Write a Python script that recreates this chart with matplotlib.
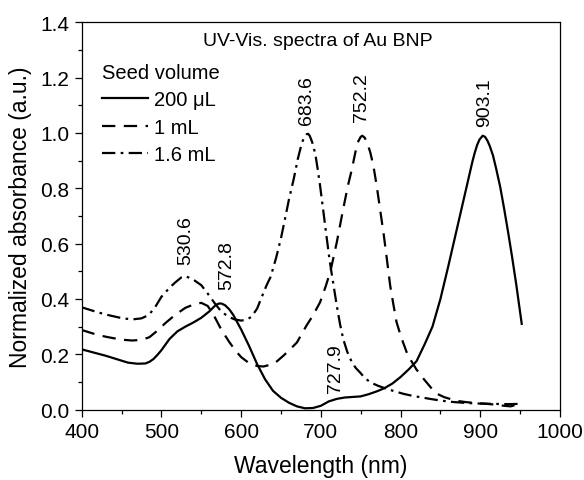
"""UV-Vis spectra of Au BNP for three seed volumes"""

import matplotlib
matplotlib.use("Agg")
import matplotlib.pyplot as plt
from matplotlib.ticker import MultipleLocator

plt.rcParams["font.family"] = ["Liberation Sans", "DejaVu Sans"]

# 200 uL seed
wl_200 = [400, 430, 458, 470, 480, 485, 490, 495, 500, 510, 520, 530, 540, 550, 560,
          567, 570, 573, 576, 580, 585, 590, 600, 610, 620, 630, 640, 650, 660, 670,
          680, 690, 700, 710, 720, 730, 740, 750, 760, 770, 780, 790, 800, 810, 820,
          830, 840, 850, 860, 870, 880, 886, 890, 893, 896, 899, 903, 906, 909, 912,
          916, 920, 925, 930, 935, 940, 945, 952]
abs_200 = [0.218, 0.195, 0.170, 0.166, 0.167, 0.173, 0.183, 0.198, 0.215, 0.255, 0.283,
           0.300, 0.315, 0.332, 0.355, 0.375, 0.381, 0.384, 0.383, 0.377, 0.363, 0.343,
           0.290, 0.230, 0.165, 0.110, 0.068, 0.043, 0.025, 0.012, 0.005, 0.006, 0.014,
           0.030, 0.039, 0.044, 0.046, 0.048, 0.056, 0.066, 0.078, 0.095, 0.118, 0.145,
           0.175, 0.235, 0.300, 0.400, 0.520, 0.645, 0.770, 0.845, 0.895, 0.928, 0.956,
           0.976, 0.990, 0.986, 0.972, 0.952, 0.918, 0.870, 0.805, 0.725, 0.640, 0.550,
           0.455, 0.310]

# 1 mL seed
wl_1ml = [400, 420, 433, 450, 463, 475, 485, 496, 505, 517, 530, 542, 550, 558, 565,
          575, 585, 593, 600, 610, 620, 628, 636, 643, 653, 660, 670, 682, 690, 699,
          706, 712, 720, 728, 734, 739, 744, 747, 750, 752, 755, 758, 762, 766, 770,
          775, 779, 783, 787, 791, 795, 801, 808, 812, 820, 829, 838, 846, 855, 862,
          870, 883, 895, 908, 920, 930, 938, 943]
abs_1ml = [0.288, 0.270, 0.262, 0.253, 0.250, 0.252, 0.262, 0.288, 0.313, 0.342, 0.368,
           0.382, 0.386, 0.375, 0.345, 0.290, 0.245, 0.213, 0.190, 0.168, 0.158, 0.156,
           0.162, 0.170, 0.195, 0.214, 0.243, 0.304, 0.340, 0.388, 0.445, 0.500, 0.605,
           0.725, 0.810, 0.870, 0.940, 0.970, 0.986, 0.990, 0.983, 0.965, 0.930, 0.880,
           0.810, 0.710, 0.630, 0.540, 0.448, 0.380, 0.316, 0.260, 0.205, 0.183, 0.145,
           0.111, 0.080, 0.057, 0.045, 0.039, 0.032, 0.027, 0.024, 0.021, 0.018, 0.014,
           0.012, 0.016]

# 1.6 mL seed
wl_16ml = [400, 420, 433, 450, 463, 475, 484, 492, 500, 510, 517, 525, 530, 540, 550,
           558, 567, 575, 584, 592, 600, 607, 613, 620, 626, 632, 637, 644, 650, 655,
           660, 666, 671, 676, 679, 682, 684, 686, 689, 693, 696, 699, 703, 707, 711,
           714, 720, 724, 728, 733, 739, 744, 749, 755, 762, 772, 783, 793, 804, 815,
           825, 837, 850, 865, 883, 900, 917, 935, 950]
abs_16ml = [0.370, 0.352, 0.342, 0.331, 0.326, 0.330, 0.342, 0.370, 0.408, 0.440, 0.459,
            0.478, 0.483, 0.470, 0.450, 0.420, 0.384, 0.355, 0.336, 0.326, 0.322, 0.325,
            0.336, 0.365, 0.408, 0.450, 0.480, 0.550, 0.620, 0.689, 0.760, 0.834, 0.905,
            0.962, 0.984, 0.995, 0.997, 0.990, 0.968, 0.925, 0.870, 0.810, 0.720, 0.629,
            0.540, 0.484, 0.376, 0.310, 0.256, 0.210, 0.171, 0.150, 0.135, 0.115, 0.099,
            0.086, 0.075, 0.066, 0.057, 0.050, 0.045, 0.039, 0.033, 0.028, 0.024, 0.022,
            0.021, 0.020, 0.021]

# peak labels: (text, x, y of label bottom)
peak_labels = [("530.6", 530, 0.527), ("572.8", 582, 0.435), ("683.6", 682.4, 1.032),
               ("752.2", 751.4, 1.043), ("903.1", 905, 1.025), ("727.9", 718, 0.064)]

fig = plt.figure(figsize=(5.84, 4.81), dpi=100)
ax = fig.add_axes([0.1399, 0.1462, 0.819, 0.8054])

ax.plot(wl_200, abs_200, color="black", lw=1.6, label="200 μL")
ax.plot(wl_1ml, abs_1ml, color="black", lw=1.6, dashes=(6.0, 3.8), label="1 mL")
ax.plot(wl_16ml, abs_16ml, color="black", lw=1.6, dashes=(6.0, 2.4, 1.2, 2.4),
        label="1.6 mL")

for txt, x, y in peak_labels:
    ax.text(x, y, txt, rotation=90, ha="center", va="bottom", fontsize=14)

ax.text(0.494, 0.952, "UV-Vis. spectra of Au BNP", transform=ax.transAxes,
        ha="center", va="center", fontsize=14)

ax.set_xlim(400, 1000)
ax.set_ylim(0, 1.4)
ax.xaxis.set_major_locator(MultipleLocator(100))
ax.xaxis.set_minor_locator(MultipleLocator(50))
ax.yaxis.set_major_locator(MultipleLocator(0.2))
ax.yaxis.set_minor_locator(MultipleLocator(0.1))
ax.yaxis.set_major_formatter(matplotlib.ticker.FormatStrFormatter("%.1f"))
ax.tick_params(which="major", direction="out", length=5, width=0.9, labelsize=15, pad=4)
ax.tick_params(which="minor", direction="out", length=3, width=0.9)
for s in ax.spines.values():
    s.set_linewidth(0.9)

ax.set_xlabel("Wavelength (nm)", fontsize=16.5, labelpad=9)
ax.set_ylabel("Normalized absorbance (a.u.)", fontsize=16.5, labelpad=6)

leg = ax.legend(loc="upper left", bbox_to_anchor=(0.042, 0.895), frameon=False,
                borderpad=0, borderaxespad=0, handlelength=2.3, handletextpad=0.3,
                labelspacing=0.42, fontsize=14.5, title="Seed volume",
                title_fontsize=14.5, alignment="left")

fig.savefig("out.png", dpi=100)
